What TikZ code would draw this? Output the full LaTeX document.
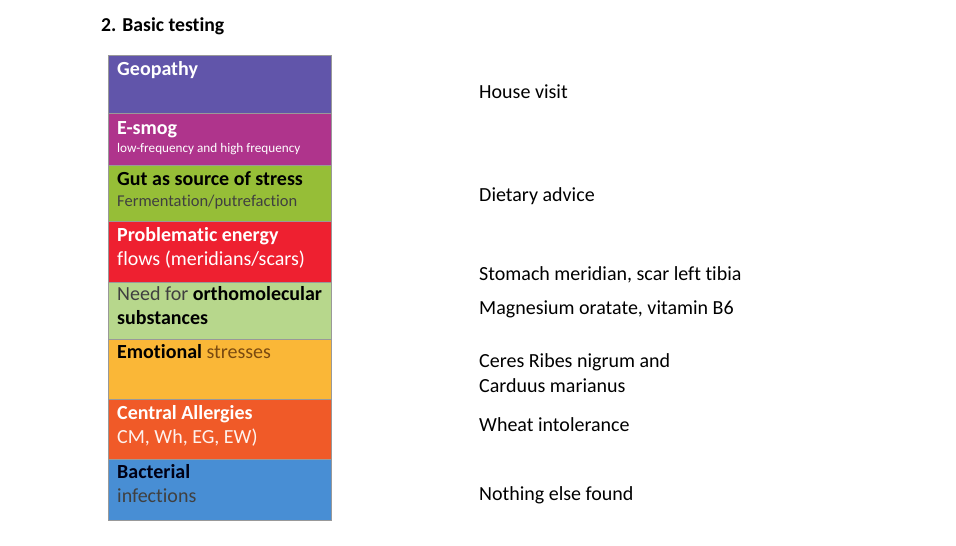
\documentclass[tikz,border=0pt]{standalone}
\usepackage{fontspec}
\setmainfont{Carlito}[Ligatures=NoCommon]
\usetikzlibrary{positioning}

\definecolor{geocol}{HTML}{6155AA}
\definecolor{smogcol}{HTML}{AF348C}
\definecolor{gutcol}{HTML}{96BE37}
\definecolor{energycol}{HTML}{EE2030}
\definecolor{orthocol}{HTML}{B7D78C}
\definecolor{emocol}{HTML}{FAB737}
\definecolor{allergycol}{HTML}{F05A28}
\definecolor{bactcol}{HTML}{488ED4}
\definecolor{stresscol}{HTML}{7A4A10}

\begin{document}
\begin{tikzpicture}[x=1pt, y=1pt,
    band/.style={draw=black!40, line width=0.5pt, minimum width=223pt,
      minimum height=#1, inner sep=0pt, outer sep=0pt},
    bandtxt/.style={anchor=base west, inner sep=0pt, align=left,
      font=\fontsize{20}{24}\selectfont},
    note/.style={anchor=base west, inner sep=0pt, align=left,
      font=\fontsize{20}{25}\selectfont}]
  \useasboundingbox (0,0) rectangle (956,-546);

  % title
  \node[anchor=base west, inner sep=0pt, font=\fontsize{19.7}{24}\selectfont\bfseries]
    (title) at (101,-31) {2. Basic testing};

  % the coloured stack
  \node[band=58pt, fill=geocol, anchor=north west] (geo) at (108,-55) {};
  \node[band=52pt, fill=smogcol, below=0pt of geo] (smog) {};
  \node[band=56pt, fill=gutcol, below=0pt of smog] (gut) {};
  \node[band=61pt, fill=energycol, below=0pt of gut] (energy) {};
  \node[band=57pt, fill=orthocol, below=0pt of energy] (ortho) {};
  \node[band=60pt, fill=emocol, below=0pt of ortho] (emo) {};
  \node[band=60pt, fill=allergycol, below=0pt of emo] (allergy) {};
  \node[band=61pt, fill=bactcol, below=0pt of allergy] (bact) {};

  % texts inside the bands (base = last line)
  \node[bandtxt, text=white] (geotxt) at ([xshift=9pt, yshift=-20pt]geo.north west)
    {\bfseries Geopathy};
  \node[bandtxt, text=white] (smogtxt) at ([xshift=9pt, yshift=-39pt]smog.north west)
    {\bfseries E-smog\\[-6pt]{\fontsize{13.2}{15}\selectfont low-frequency and high frequency}};
  \node[bandtxt] (guttxt) at ([xshift=9pt, yshift=-41pt]gut.north west)
    {\bfseries Gut as source of stress\\[-3pt]
     {\fontsize{16.5}{20}\selectfont\mdseries\textcolor{black!75}{Fermentation/putrefaction}}};
  \node[bandtxt, text=white] (energytxt) at ([xshift=9pt, yshift=-44pt]energy.north west)
    {\bfseries Problematic energy\\ \mdseries flows (meridians/scars)};
  \node[bandtxt] (orthotxt) at ([xshift=9pt, yshift=-42pt]ortho.north west)
    {\textcolor{black!75}{Need for} \textbf{orthomolecular}\\ \textbf{substances}};
  \node[bandtxt] (emotxt) at ([xshift=9pt, yshift=-19pt]emo.north west)
    {\textbf{Emotional} \textcolor{stresscol}{stresses}};
  \node[bandtxt, text=white] (allergytxt) at ([xshift=9pt, yshift=-44pt]allergy.north west)
    {\bfseries Central Allergies\\ \mdseries\textcolor{white!92!allergycol}{CM, Wh, EG, EW)}};
  \node[bandtxt] (bacttxt) at ([xshift=9pt, yshift=-43pt]bact.north west)
    {\textbf{\textcolor{black!92!blue}{Bacterial}}\\ \textcolor{black!75}{infections}};

  % findings on the right
  \node[note] (house) at (479,-98) {House visit};
  \node[note] (diet) at (479,-201) {Dietary advice};
  \node[note] (meridian) at (479,-280) {Stomach meridian, scar left tibia};
  \node[note] (magnesium) at (479,-314) {Magnesium oratate, vitamin B6};
  \node[note] (ceres) at (479,-392) {Ceres Ribes nigrum and\\ Carduus marianus};
  \node[note] (wheat) at (479,-431) {Wheat intolerance};
  \node[note] (nothing) at (479,-500) {Nothing else found};
\end{tikzpicture}
\end{document}
